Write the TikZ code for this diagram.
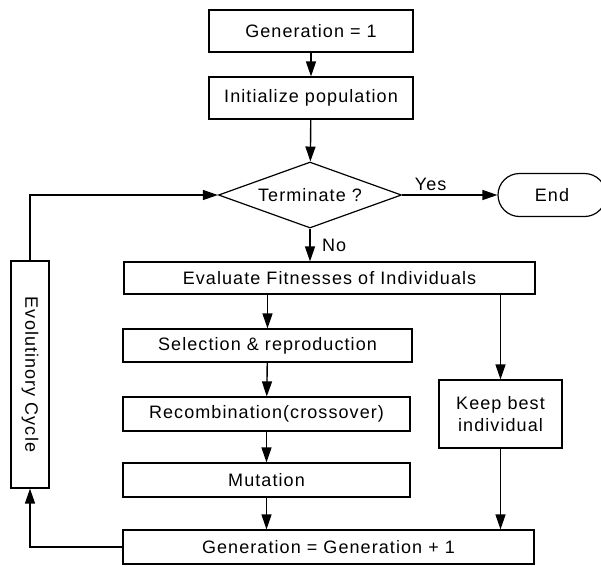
\documentclass[tikz,border=0pt]{standalone}
\usepackage{fontspec}
\setmainfont{Liberation Sans}[LetterSpace=6]
\usepackage{tikz}
\usetikzlibrary{shapes,arrows.meta,positioning,calc}

\begin{document}
\begin{tikzpicture}[x=1pt, y=-1pt,
    box/.style={draw, line width=1.2pt, inner sep=0pt, font=\fontsize{18}{22}\selectfont},
    arr/.style={line width=1.4pt, -{Triangle[length=15pt,width=10pt]}},
    lbl/.style={font=\fontsize{18}{22}\selectfont}]
    \useasboundingbox (0,0) rectangle (601,566);

    % Start
    \node[box, minimum width=204pt, minimum height=42pt] (gen1) at (311,31) {Generation = 1};
    \node[box, minimum width=204pt, minimum height=42pt] (init) at (311,98) {Initialize population};
    \node[box, diamond, aspect=2.77, minimum width=183pt, minimum height=66pt] (term) at (310,195) {Terminate ?};
    \node[box, rounded rectangle, minimum width=108pt, minimum height=43pt] (end) at (552,195) {End};

    % Evolutionary cycle
    \node[box, minimum width=411pt, minimum height=32pt] (eval) at (329.5,278) {Evaluate Fitnesses of Individuals};
    \node[box, minimum width=289pt, minimum height=33pt] (sel) at (267.5,345.5) {Selection \& reproduction};
    \node[box, minimum width=287pt, minimum height=34pt] (recomb) at (266.5,414) {Recombination(crossover)};
    \node[box, minimum width=287pt, minimum height=34pt] (mut) at (266.5,480) {Mutation};
    \node[box, align=center, minimum width=123pt, minimum height=68pt] (keep) at (500.5,414) {Keep best\\individual};
    \node[box, minimum width=411pt, minimum height=34pt] (gen2) at (328.5,547) {Generation = Generation + 1};
    \node[box, rotate=-90, minimum width=227pt, minimum height=38pt] (evol) at (30,374.5) {Evolutinory Cycle};

    \draw[arr] (gen1) -- (init);
    \draw[arr] (init) -- (term);
    \draw[arr] (term.east) -- (end.west) node[lbl, pos=0.3, above] {Yes};
    \draw[arr] (term.south) -- (eval.north -| term.south) node[lbl, midway, right, xshift=8pt] {No};
    \draw[arr] (sel.north |- eval.south) -- (sel.north);
    \draw[arr] (keep.north |- eval.south) -- (keep.north);
    \draw[arr] (sel) -- (recomb);
    \draw[arr] (recomb) -- (mut);
    \draw[arr] (mut.south) -- (mut.south |- gen2.north);
    \draw[arr] (keep.south) -- (keep.south |- gen2.north);

    % Loop back
    \draw[arr] (gen2.west) -| (evol.east);
    \draw[arr] (evol.west) |- (term.west);
\end{tikzpicture}
\end{document}
